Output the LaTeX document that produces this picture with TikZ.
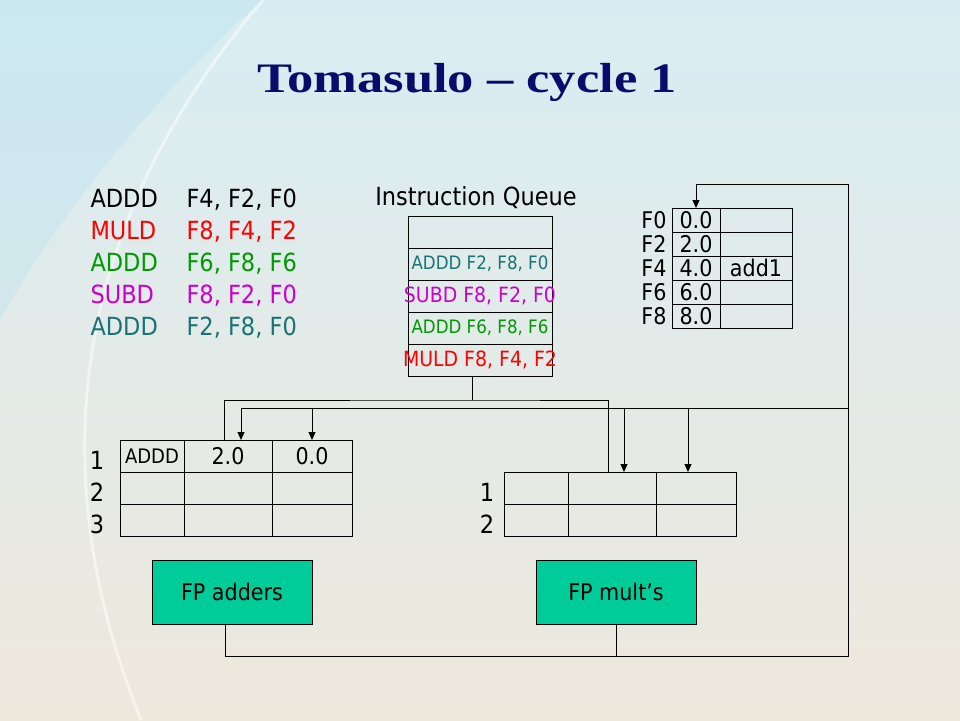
\documentclass[tikz,border=0pt]{standalone}
\usepackage{fontspec}
\newfontfamily\tahoma[FakeStretch=0.9]{DejaVu Sans}
\newfontfamily\antiqua[FakeStretch=1.25]{Liberation Serif}
\usetikzlibrary{positioning,arrows.meta}

\definecolor{slidenavy}{HTML}{0B0B6B}
\definecolor{fugreen}{HTML}{00CC99}
\definecolor{instred}{HTML}{FF0000}
\definecolor{instgreen}{HTML}{009900}
\definecolor{instmag}{HTML}{CC00CC}
\definecolor{instteal}{HTML}{1A7373}
\definecolor{bgtop}{HTML}{D8EDF3}
\definecolor{bgmid}{HTML}{F4F6F2}
\definecolor{bgbot}{HTML}{EEE8DC}
\definecolor{bgblue}{HTML}{B5E0F0}

\tikzset{
  titletext/.style={text=slidenavy, font=\antiqua\bfseries\fontsize{42}{50}\selectfont},
  listtext/.style={anchor=base west, inner sep=0pt, font=\tahoma\fontsize{25}{30}\selectfont},
  qtext/.style={inner sep=0pt, font=\tahoma\fontsize{18.5}{22}\selectfont},
  qcell/.style={draw, inner sep=0pt, outer sep=0pt, minimum width=144pt, minimum height=32pt},
  regcell/.style={draw, inner sep=0pt, outer sep=0pt, minimum height=24pt, font=\tahoma\fontsize{23}{24}\selectfont},
  reglabel/.style={inner sep=0pt, font=\tahoma\fontsize{23}{24}\selectfont},
  cell/.style={draw, inner sep=0pt, outer sep=0pt, minimum height=32pt, font=\tahoma\fontsize{23}{26}\selectfont},
  rowlabel/.style={inner sep=0pt, font=\tahoma\fontsize{25}{30}\selectfont},
  fubox/.style={draw, fill=fugreen, inner sep=0pt, minimum width=160pt, minimum height=64pt, font=\tahoma\fontsize{23}{26}\selectfont}
}

\begin{document}
\begin{tikzpicture}[x=1pt, y=-1pt, line width=1pt, >={Triangle[length=8pt,width=7pt]}]
% Slide background
\shade[top color=bgtop, middle color=bgmid, bottom color=bgbot] (0,0) rectangle (960,720);
\useasboundingbox (0,0) rectangle (960,720);
\fill[bgblue, opacity=0.35] (0,0) -- (263,0) .. controls (170,80) and (60,210) .. (0,320) -- cycle;
\draw[white, line width=3pt, opacity=0.5] (263,0) .. controls (40,260) and (60,520) .. (141,720);

% Title
\node[titletext, anchor=base] (title) at (467,92) {Tomasulo \textendash{} cycle 1};

% Instruction sequence
\node[listtext] (op1) at (90,207) {ADDD};
\node[listtext] (args1) at (186,207) {F4, F2, F0};
\node[listtext, text=instred] (op2) at (90,239) {MULD};
\node[listtext, text=instred] (args2) at (186,239) {F8, F4, F2};
\node[listtext, text=instgreen] (op3) at (90,271) {ADDD};
\node[listtext, text=instgreen] (args3) at (186,271) {F6, F8, F6};
\node[listtext, text=instmag] (op4) at (90,303) {SUBD};
\node[listtext, text=instmag] (args4) at (186,303) {F8, F2, F0};
\node[listtext, text=instteal] (op5) at (90,335) {ADDD};
\node[listtext, text=instteal] (args5) at (186,335) {F2, F8, F0};

% Instruction queue
\node[listtext, anchor=base] (qtitle) at (476,205) {Instruction Queue};
\node[qcell] (q1) at (480,232) {};
\node[qcell, below=0pt of q1] (q2) {};
\node[qcell, below=0pt of q2] (q3) {};
\node[qcell, below=0pt of q3] (q4) {};
\node[qcell, below=0pt of q4] (q5) {};
\node[qtext, text=instteal] (q2txt) at (q2) {ADDD F2, F8, F0};
\node[qtext, text=instmag, font=\tahoma\fontsize{21}{24}\selectfont] (q3txt) at (q3) {SUBD F8, F2, F0};
\node[qtext, text=instgreen] (q4txt) at (q4) {ADDD F6, F8, F6};
\node[qtext, text=instred, font=\tahoma\fontsize{21}{24}\selectfont] (q5txt) at (q5) {MULD F8, F4, F2};

% Register file
\node[regcell, minimum width=48pt] (r0v) at (696,220) {0.0};
\node[regcell, minimum width=72pt, right=0pt of r0v] (r0t) {};
\node[regcell, minimum width=48pt, below=0pt of r0v] (r2v) {2.0};
\node[regcell, minimum width=72pt, right=0pt of r2v] (r2t) {};
\node[regcell, minimum width=48pt, below=0pt of r2v] (r4v) {4.0};
\node[regcell, minimum width=72pt, right=0pt of r4v] (r4t) {add1};
\node[regcell, minimum width=48pt, below=0pt of r4v] (r6v) {6.0};
\node[regcell, minimum width=72pt, right=0pt of r6v] (r6t) {};
\node[regcell, minimum width=48pt, below=0pt of r6v] (r8v) {8.0};
\node[regcell, minimum width=72pt, right=0pt of r8v] (r8t) {};
\node[reglabel, left=5pt of r0v] (f0) {F0};
\node[reglabel, left=5pt of r2v] (f2) {F2};
\node[reglabel, left=5pt of r4v] (f4) {F4};
\node[reglabel, left=5pt of r6v] (f6) {F6};
\node[reglabel, left=5pt of r8v] (f8) {F8};

% Reservation stations of the adders
\node[cell, minimum width=64pt, font=\tahoma\fontsize{20}{22}\selectfont] (a1op) at (152,456) {ADDD};
\node[cell, minimum width=88pt, right=0pt of a1op] (a1vj) {2.0};
\node[cell, minimum width=80pt, right=0pt of a1vj] (a1vk) {0.0};
\node[cell, minimum width=64pt, below=0pt of a1op] (a2op) {};
\node[cell, minimum width=88pt, right=0pt of a2op] (a2vj) {};
\node[cell, minimum width=80pt, right=0pt of a2vj] (a2vk) {};
\node[cell, minimum width=64pt, below=0pt of a2op] (a3op) {};
\node[cell, minimum width=88pt, right=0pt of a3op] (a3vj) {};
\node[cell, minimum width=80pt, right=0pt of a3vj] (a3vk) {};
\node[rowlabel] (a1num) at (97,460) {1};
\node[rowlabel] (a2num) at (97,492) {2};
\node[rowlabel] (a3num) at (97,524) {3};

% Reservation stations of the multipliers
\node[cell, minimum width=64pt] (m1op) at (536,488) {};
\node[cell, minimum width=88pt, right=0pt of m1op] (m1vj) {};
\node[cell, minimum width=80pt, right=0pt of m1vj] (m1vk) {};
\node[cell, minimum width=64pt, below=0pt of m1op] (m2op) {};
\node[cell, minimum width=88pt, right=0pt of m2op] (m2vj) {};
\node[cell, minimum width=80pt, right=0pt of m2vj] (m2vk) {};
\node[rowlabel] (m1num) at (487,492) {1};
\node[rowlabel] (m2num) at (487,524) {2};

% Functional units
\node[fubox] (adders) at (232,592) {FP adders};
\node[fubox] (mults) at (616,592) {FP mult’s};

% Issue from the queue
\coordinate (issue) at (472.7,400);
\draw (q5.south -| issue) -- (issue);
\draw ([xshift=-4pt]a1vj.north) |- (issue) -| ([xshift=-4pt]m1vj.north);

% Common data bus
\coordinate (cdbtop) at (848,184);
\coordinate (cdbbot) at (848,656);
\coordinate (bus) at (848,408);
\draw[->] ([xshift=-7pt]adders.south) |- (cdbbot) -- (cdbtop) -| (r0v.north);
\draw (mults.south) -- (mults.south |- cdbbot);
\draw[->] (bus) -| ([xshift=13pt]a1vj.north);
\draw[->] (a1vk.north |- bus) -- (a1vk.north);
\draw[->] ([xshift=12pt]m1vj.north |- bus) -- ([xshift=12pt]m1vj.north);
\draw[->] ([xshift=-8pt]m1vk.north |- bus) -- ([xshift=-8pt]m1vk.north);
\end{tikzpicture}
\end{document}
